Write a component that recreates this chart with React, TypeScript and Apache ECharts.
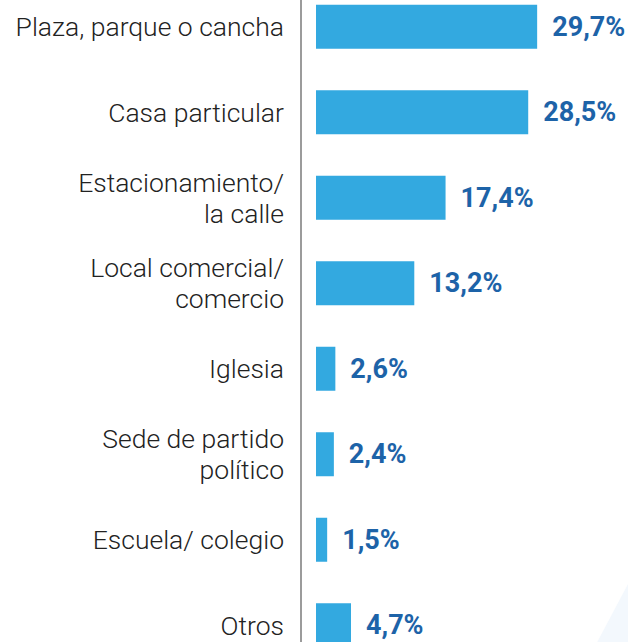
import React, { useEffect, useRef } from "react";
import * as echarts from "echarts";

const categories = [
  "Plaza, parque o cancha",
  "Casa particular",
  "Estacionamiento/\nla calle",
  "Local comercial/\ncomercio",
  "Iglesia",
  "Sede de partido\npolítico",
  "Escuela/ colegio",
  "Otros",
];
const values = [29.7, 28.5, 17.4, 13.2, 2.6, 2.4, 1.5, 4.7];
const valueLabels = ["29,7%", "28,5%", "17,4%", "13,2%", "2,6%", "2,4%", "1,5%", "4,7%"];

export default function App() {
  const ref = useRef<HTMLDivElement>(null);
  useEffect(() => {
    if (!ref.current) return;
    const chart = echarts.init(ref.current, undefined, { renderer: "svg" });
    chart.setOption({
      animation: false,
      backgroundColor: "#ffffff",
      graphic: [
        {
          type: "polygon",
          shape: { points: [[628, 600], [628, 700], [575, 700]] },
          style: { fill: "#f3f8fd" },
          z: -10,
        },
      ],
      grid: { left: 316, right: 0, top: 0, height: 684, containLabel: false },
      xAxis: {
        type: "value",
        min: 0,
        max: 41.9,
        show: false,
      },
      yAxis: {
        type: "category",
        inverse: true,
        data: categories,
        offset: 15,
        axisLine: { show: true, onZero: false, lineStyle: { color: "#7a7a7a", width: 1.5 } },
        axisTick: { show: false },
        axisLabel: {
          margin: 17,
          fontFamily: "Roboto",
          fontWeight: 300,
          fontSize: 26.5,
          color: "#222222",
          lineHeight: 31,
          align: "right",
        },
        splitLine: { show: false },
      },
      series: [
        {
          type: "bar",
          data: values,
          barWidth: 44,
          itemStyle: { color: "#33a9e0" },
          label: {
            show: true,
            position: "right",
            distance: 15,
            formatter: (p: any) => valueLabels[p.dataIndex],
            fontFamily: "Roboto",
            fontWeight: "bold",
            fontSize: 27,
            color: "#1d63a8",
          },
        },
      ],
    });
    return () => chart.dispose();
  }, []);
  return (
    <div style={{ position: "absolute", left: 0, top: 0, width: 628, height: 642, overflow: "hidden" }}>
      <div ref={ref} style={{ position: "absolute", left: 0, top: -16, width: 628, height: 684 }} />
    </div>
  );
}
